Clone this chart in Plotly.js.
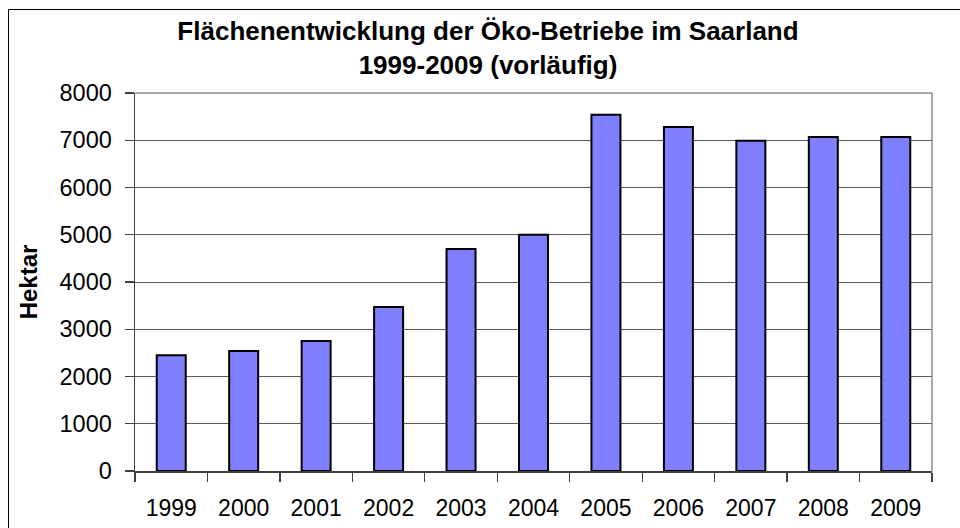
<!DOCTYPE html>
<html>
<head>
<meta charset="utf-8">
<script src="https://cdn.plot.ly/plotly-3.0.1.min.js"></script>
<style>html,body{margin:0;padding:0;background:#fff;}#chart{width:960px;height:528px;}</style>
</head>
<body>
<div id="chart"></div>
<script>
const years = ['1999','2000','2001','2002','2003','2004','2005','2006','2007','2008','2009'];
const hektar = [2450, 2540, 2750, 3470, 4700, 5000, 7540, 7280, 6990, 7070, 7070];
const yTicks = [0, 1000, 2000, 3000, 4000, 5000, 6000, 7000, 8000];

const trace = {
  type: 'bar',
  x: years,
  y: hektar,
  marker: {color: '#8080FF', line: {color: '#000000', width: 2}},
  hoverinfo: 'x+y'
};

const layout = {
  width: 960,
  height: 528,
  margin: {l: 135, r: 28, t: 93, b: 57},
  paper_bgcolor: '#ffffff',
  plot_bgcolor: '#ffffff',
  font: {family: 'Liberation Sans, Arial, sans-serif', color: '#000'},
  bargap: 0.6,
  showlegend: false,
  title: {
    text: '<b>Flächenentwicklung der Öko-Betriebe im Saarland<br>1999-2009 (vorläufig)</b>',
    font: {size: 26, color: '#000'},
    x: 488/960, xref: 'container', xanchor: 'center',
    y: 1 - 40/528, yref: 'container', yanchor: 'top'
  },
  xaxis: {
    type: 'category',
    tickson: 'boundaries',
    ticks: 'outside', ticklen: 9, tickwidth: 1.3, tickcolor: '#404040',
    showline: true, linecolor: '#404040', linewidth: 1.5,
    showgrid: false,
    tickfont: {size: 23, color: '#000'},
    ticklabelstandoff: 16,
    mirror: false
  },
  yaxis: {
    range: [0, 8000],
    tickvals: yTicks,
    ticktext: yTicks.map(String),
    ticks: 'outside', ticklen: 9, tickwidth: 1.3, tickcolor: '#404040',
    showline: true, linecolor: '#404040', linewidth: 1.5,
    showgrid: true, gridcolor: '#5a5a5a', gridwidth: 1,
    zeroline: false,
    tickfont: {size: 23.5, color: '#000'},
    ticklabelstandoff: 8,
    title: {text: '<b>Hektar</b>', font: {size: 24, color: '#000'}, standoff: 15}
  },
  shapes: [
    {type: 'line', xref: 'paper', yref: 'paper', x0: 1, x1: 1, y0: 0, y1: 1, line: {color: '#8c8c8c', width: 1.5}},
    {type: 'line', xref: 'paper', yref: 'paper', x0: 0, x1: 1, y0: 1, y1: 1, line: {color: '#8c8c8c', width: 1.5}},
    {type: 'line', xref: 'paper', yref: 'paper', x0: (8.5-135)/797, x1: (8.5-135)/797, y0: (471-540)/378, y1: (471-9.5)/378, line: {color: '#000', width: 1}},
    {type: 'line', xref: 'paper', yref: 'paper', x0: (8.5-135)/797, x1: (970-135)/797, y0: (471-9.5)/378, y1: (471-9.5)/378, line: {color: '#000', width: 1}}
  ]
};

Plotly.newPlot('chart', [trace], layout, {displayModeBar: false, staticPlot: true});
</script>
</body>
</html>
